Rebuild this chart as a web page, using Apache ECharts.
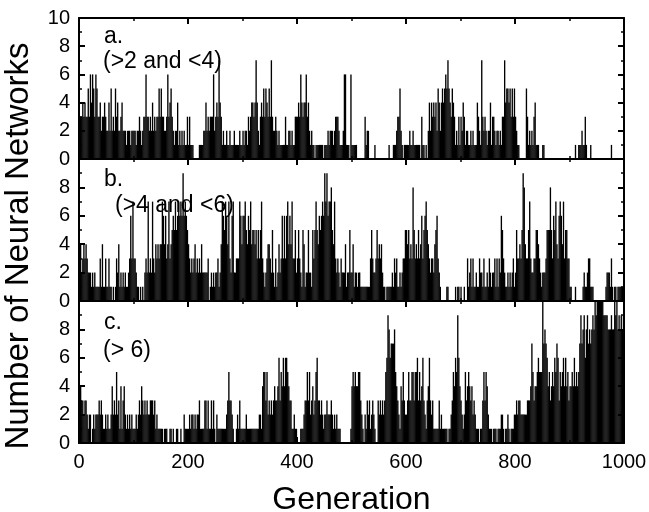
<!DOCTYPE html>
<html><head><meta charset="utf-8">
<style>html,body{margin:0;padding:0;background:#fff}#c{width:649px;height:512px}</style>
<script src="https://cdn.jsdelivr.net/npm/echarts@6/dist/echarts.min.js"></script>
</head><body><div id="c"></div>
<script>
const generationStep = 2;
const panelA = [
3,3,3,4,3,4,3,3,5,3, 6,4,6,5,3,6,5,3,3,4, 2,3,3,4,3,2,2,4,2,5, 2,3,2,5,3,4,2,2,3,4, 2,2,2,1,2,2,2,1,2,2,
2,2,1,2,2,3,2,1,2,3, 3,6,3,3,2,3,2,4,2,3, 2,3,3,5,3,5,3,3,2,2, 3,6,3,4,5,3,2,1,2,2, 4,1,2,1,2,1,2,1,1,3,
1,3,1,1,1,0,0,0,0,0, 1,1,1,1,2,2,4,2,3,2, 3,3,3,6,2,3,4,3,7,4, 3,1,2,1,1,2,1,1,2,1, 1,1,2,1,1,1,1,2,1,1,
2,1,2,2,1,3,2,3,4,4, 3,4,7,4,2,1,3,4,3,5, 3,5,4,3,5,3,7,3,2,2, 3,2,1,2,1,1,1,1,1,3, 1,1,2,2,1,2,1,1,3,3,
3,4,3,6,4,3,4,4,6,3, 4,2,1,2,1,1,0,1,1,1, 1,1,1,1,0,1,1,1,2,1, 2,2,2,1,2,3,3,3,2,1, 1,1,2,6,6,1,1,1,0,6,
1,1,1,1,1,0,0,0,0,0, 0,0,3,1,2,2,0,0,0,0, 0,1,0,0,0,0,0,0,0,0, 0,0,0,0,1,0,0,0,1,1, 1,2,3,3,5,2,1,0,1,1,
1,1,1,2,1,1,2,1,1,1, 1,1,1,0,3,1,1,0,1,0, 2,4,2,4,3,4,3,4,2,5, 4,2,4,5,4,5,6,5,7,5, 4,3,5,4,3,1,2,1,3,1,
3,2,4,3,1,2,2,1,1,2, 1,2,1,1,1,4,3,2,1,7, 3,2,3,2,1,2,2,4,1,3, 3,2,1,2,2,1,2,1,3,3, 7,4,5,5,4,5,3,5,3,5,
3,2,1,1,0,0,0,0,0,0, 5,3,1,2,1,2,1,3,4,1, 1,1,0,0,0,1,1,0,0,0, 0,0,0,0,0,0,0,0,0,0, 0,0,0,0,0,0,0,0,0,0,
0,0,0,0,0,1,0,0,1,1, 1,2,1,1,3,1,0,0,0,1, 0,0,0,0,0,0,0,0,0,0, 0,0,0,0,0,0,0,0,1,0, 0,0,0,0,0,0,0,0,0,0
];
const panelB = [
3,4,2,3,4,3,4,3,2,2, 2,1,2,1,2,1,1,1,1,3, 1,4,1,1,3,1,1,3,1,1, 0,1,0,1,3,2,4,1,2,1, 2,1,2,1,1,2,3,6,3,7,
3,3,2,1,1,0,1,0,1,0, 2,3,2,7,2,3,2,7,3,2, 4,3,4,3,4,4,7,6,4,6, 3,4,7,3,4,5,6,5,7,5, 6,7,6,7,6,9,6,7,6,5,
4,3,2,3,2,3,4,2,3,2, 3,2,4,2,2,2,2,2,3,0, 1,2,1,2,1,2,2,3,1,2, 4,7,6,5,7,6,4,7,3,2, 6,7,2,2,3,3,3,7,6,4,
6,6,7,5,4,6,5,7,4,5, 5,4,5,3,5,3,5,7,3,2, 1,2,3,4,4,3,2,5,2,1, 3,1,2,4,2,3,6,3,6,3, 6,7,4,6,4,7,3,3,5,2,
3,5,3,2,1,5,4,1,2,2, 5,2,2,1,5,3,5,7,5,4, 6,5,6,7,6,9,7,9,6,7, 7,8,5,4,7,3,2,3,2,1, 3,2,2,2,4,1,2,2,5,2,
2,4,1,2,2,1,2,2,1,1, 1,1,1,1,1,1,1,3,5,3, 2,2,3,5,3,4,3,4,2,1, 1,0,1,1,1,1,1,2,1,3, 2,3,1,1,2,1,2,3,3,5,
5,4,5,3,4,3,8,5,3,4, 3,5,3,4,6,3,5,6,7,5, 4,3,2,3,3,2,4,5,6,3, 2,1,0,0,0,0,0,1,1,0, 0,0,0,0,0,1,0,1,1,0,
1,0,0,1,0,0,3,1,2,3, 1,3,1,1,2,1,1,3,2,2, 1,3,1,1,2,1,3,2,1,2, 2,3,1,3,1,3,2,6,5,3, 2,1,1,2,1,2,1,2,3,1,
2,5,3,3,4,3,5,9,8,4, 3,3,5,7,3,2,2,3,3,5, 5,4,3,2,1,2,2,2,3,5, 5,5,8,5,3,6,5,7,4,3, 6,7,6,4,7,3,5,5,3,3,
1,1,0,0,0,1,0,0,0,0, 0,0,1,2,1,1,2,3,3,1, 1,1,0,0,0,0,0,0,0,0, 0,0,0,1,2,2,2,1,3,1, 0,1,1,0,1,1,1,1,1,1
];
const panelC = [
4,4,3,3,2,3,3,2,1,2, 2,0,1,2,1,2,2,2,3,2, 3,2,1,1,2,1,2,1,1,2, 4,2,3,2,5,2,3,1,4,1, 3,4,2,1,2,1,2,1,2,1,
1,1,2,1,2,3,2,4,3,2, 3,2,3,2,2,3,3,3,2,3, 1,2,1,1,1,1,1,0,1,1, 1,0,0,1,1,0,1,0,0,1, 1,0,0,1,0,0,2,1,1,1,
1,2,1,2,2,1,2,1,2,2, 3,1,1,1,1,3,3,1,3,1, 1,3,1,3,1,0,2,1,1,1, 1,1,1,1,1,2,3,5,3,3, 2,1,0,0,1,2,1,3,1,1,
1,1,1,2,1,1,1,1,1,1, 1,1,1,1,1,2,2,1,4,5, 5,3,5,2,3,2,3,2,3,4, 3,3,4,6,3,5,4,6,4,6, 6,5,4,3,3,1,1,2,1,1,
0,0,0,1,1,1,2,3,3,5, 3,5,2,3,4,2,3,5,6,3, 3,2,3,2,1,2,2,3,2,2, 2,3,2,1,2,1,2,1,1,1, 0,0,0,0,0,0,0,0,0,1,
4,5,4,5,4,4,5,5,3,2, 1,0,2,1,3,2,3,1,2,3, 2,1,0,0,3,2,3,2,3,2, 3,5,6,9,8,6,7,7,7,8, 5,4,3,2,1,4,3,5,3,2,
2,3,5,3,3,5,5,3,5,5, 6,3,5,3,4,6,3,2,1,3, 4,6,3,2,3,1,1,1,1,1, 3,1,2,1,1,1,1,1,0,1, 1,2,3,5,4,6,5,9,6,4,
3,2,1,2,5,3,4,5,4,3, 4,2,3,2,1,1,1,0,1,1, 3,5,3,5,4,2,1,1,1,0, 1,1,1,0,1,1,1,2,2,1, 0,1,1,2,1,0,1,1,1,2,
2,3,2,3,3,2,2,2,2,2, 2,3,3,3,4,7,5,3,4,4, 5,6,5,5,5,10,7,8,7,6, 4,5,3,4,5,4,6,5,7,6, 3,5,4,5,6,4,6,4,5,3,
4,4,5,4,6,4,5,4,5,7, 9,7,8,9,6,8,9,7,8,7, 8,9,8,10,9,10,10,10,10,10, 10,9,9,9,9,8,8,8,9,8, 8,10,9,10,8,9,8,9,8,9
];
const panels = [panelA, panelB, panelC];
const gridTops = [18,159,301];
const gridHeights = [141,142,142];
const notes = [
 ['a.',104,36],['(>2 and <4)',103,61],
 ['b.',104,179],['(>4 and <6)',115,205],
 ['c.',104,322],['(> 6)',103,350]
];
const yTitle = 'Number of Neural Networks';
const font = 'Liberation Sans';
const line = {show:true,lineStyle:{color:'#000',width:2}};
const grids=[],xAxes=[],yAxes=[],series=[];
panels.forEach((vals,i)=>{
  grids.push({left:79,width:545,top:gridTops[i],height:gridHeights[i],outerBoundsMode:'none'});
  const last = i===2;
  const xBase = {type:'value',gridIndex:i,min:0,max:1000,interval:200,splitLine:{show:false},axisLine:{...line,onZero:false},
    axisTick:{show:true,inside:true,length:6,lineStyle:{color:'#000',width:2}},
    minorTick:{show:true,splitNumber:2,length:3,lineStyle:{color:'#000',width:1.5}},minorSplitLine:{show:false}};
  xAxes.push({...xBase,position:'bottom',
    axisLabel:{show:last,color:'#000',fontFamily:font,fontSize:20,margin:9,hideOverlap:false,formatter:v=>String(v)},
    ...(last?{name:'Generation',nameLocation:'middle',nameGap:41,nameTextStyle:{color:'#000',fontFamily:font,fontSize:32}}:{})});
  xAxes.push({...xBase,position:'top',axisLabel:{show:false}});
  const yBase = {type:'value',gridIndex:i,min:0,max:10,interval:2,splitLine:{show:false},axisLine:{...line,onZero:false},
    axisTick:{show:true,inside:true,length:6,lineStyle:{color:'#000',width:2}},
    minorTick:{show:true,splitNumber:2,length:3,lineStyle:{color:'#000',width:1.5}},minorSplitLine:{show:false}};
  yAxes.push({...yBase,position:'left',
    axisLabel:{color:'#000',fontFamily:font,fontSize:20,margin:9,showMaxLabel:true,showMinLabel:true,
      formatter:v=>(v===10&&i>0)?'':String(v)}});
  yAxes.push({...yBase,position:'right',axisLabel:{show:false}});
  series.push({type:'bar',xAxisIndex:i*2,yAxisIndex:i*2,barWidth:1.35,silent:true,animation:false,
    itemStyle:{color:'#000'},data:vals.map((v,k)=>[k*generationStep+1,v])});
});
const chart = echarts.init(document.getElementById('c'),null,{renderer:'canvas'});
chart.setOption({animation:false,backgroundColor:'#fff',grid:grids,xAxis:xAxes,yAxis:yAxes,series,
  graphic:notes.map(n=>({type:'text',left:n[1],top:n[2]-11,z:100,style:{text:n[0],fill:'#000',font:'23px "Liberation Sans"'}}))
  .concat([{type:'text',x:19,y:246,rotation:Math.PI/2,z:100,style:{text:yTitle,fill:'#000',font:'33px "Liberation Sans"',align:'center',verticalAlign:'middle'}}])});
</script></body></html>
